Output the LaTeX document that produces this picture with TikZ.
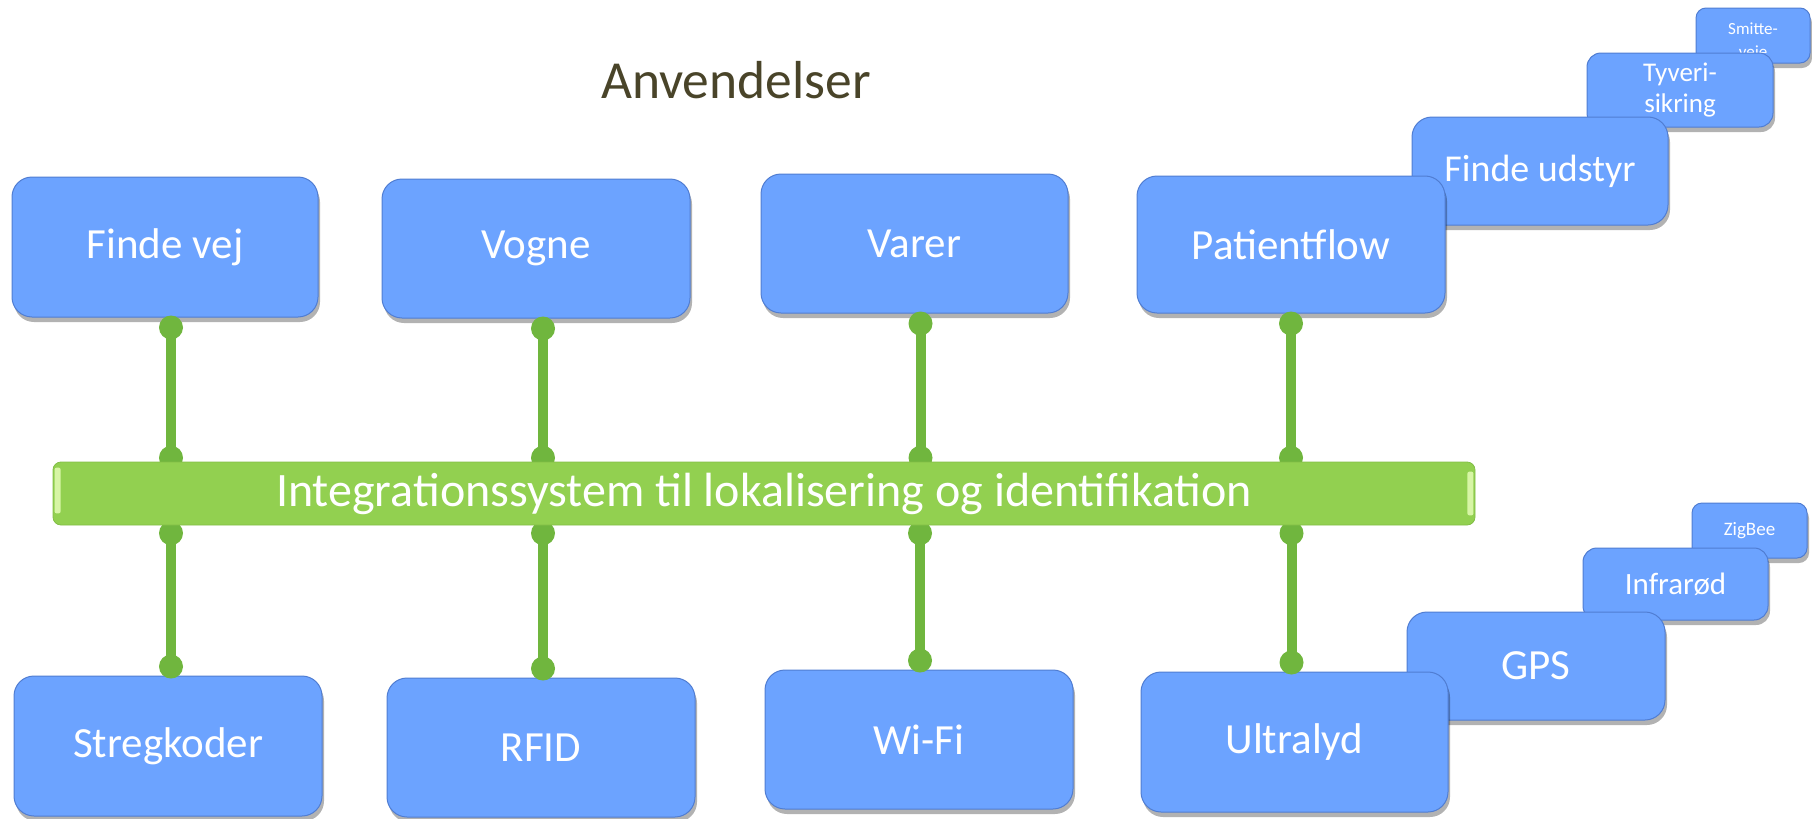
\documentclass[tikz,border=0pt]{standalone}
\usepackage{fontspec}
\setmainfont{Carlito}
\usetikzlibrary{shadows}
\definecolor{boxblue}{RGB}{108,163,255}
\definecolor{boxedge}{RGB}{80,125,210}
\definecolor{bargreen}{RGB}{146,208,80}
\definecolor{baredge}{RGB}{130,190,70}
\definecolor{conngreen}{RGB}{112,182,62}
\definecolor{titlecol}{RGB}{73,68,41}
\definecolor{hilite}{RGB}{215,245,165}
\tikzset{
  bluebox/.style={rectangle, rounded corners=20pt, fill=boxblue, draw=boxedge, line width=1pt,
    text=white, inner sep=0pt, align=center,
    drop shadow={shadow xshift=2pt, shadow yshift=-5pt, opacity=0.3, fill=black}},
  bigtxt/.style={font=\fontsize{43}{47}\selectfont},
  midtxt/.style={font=\fontsize{38}{42}\selectfont},
  smtxt/.style={font=\fontsize{27}{31}\selectfont, rounded corners=14pt},
  tinybox/.style={rounded corners=10pt},
  conn/.style={line width=10pt, draw=conngreen},
  dot/.style={fill=conngreen},
}
\begin{document}
\begin{tikzpicture}[x=1pt,y=-1pt]
\useasboundingbox (0,0) rectangle (1812,819);

% title
\node[text=titlecol, font=\fontsize{53.5}{58}\selectfont] (title) at (736,80) {Anvendelser};

% top stacked boxes (back to front)
\node[bluebox, tinybox, minimum width=114pt, minimum height=55pt] (sm) at (1753,35.5) {};
\node[text=white, align=center, inner sep=0pt, font=\fontsize{17}{23}\selectfont] (smtext) at ([yshift=-6pt]sm.center) {Smitte-\\veje};
\node[bluebox, smtxt, minimum width=186pt, minimum height=74pt] (ty) at (1680,90) {Tyveri-\\sikring};
\node[bluebox, midtxt, minimum width=256pt, minimum height=108pt] (fu) at (1540,171) {Finde udstyr};

% bottom stacked boxes (back to front)
\node[bluebox, tinybox, font=\fontsize{19}{23}\selectfont, minimum width=115pt, minimum height=55pt] (zb) at (1749.5,530.5) {ZigBee};
\node[bluebox, font=\fontsize{31}{35}\selectfont, rounded corners=14pt, minimum width=185pt, minimum height=72pt] (ir) at (1675.5,584) {Infrarød};
\node[bluebox, font=\fontsize{43}{47}\selectfont, minimum width=258pt, minimum height=108pt] (gps) at (1536,666) {GPS};

% main top boxes
\node[bluebox, bigtxt, minimum width=306pt, minimum height=140pt] (fv) at (165,247) {Finde vej};
\node[bluebox, bigtxt, minimum width=308pt, minimum height=139pt] (vo) at (536,248.5) {Vogne};
\node[bluebox, bigtxt, minimum width=307pt, minimum height=139pt] (va) at (914.5,243.5) {Varer};
\node[bluebox, bigtxt, minimum width=308pt, minimum height=137pt] (pf) at (1291,244.5) {Patientflow};

% main bottom boxes
\node[bluebox, bigtxt, minimum width=308pt, minimum height=140pt] (sk) at (168,746) {Stregkoder};
\node[bluebox, bigtxt, minimum width=308pt, minimum height=139pt] (rf) at (541,747.5) {RFID};
\node[bluebox, bigtxt, minimum width=308pt, minimum height=139pt] (wf) at (919,739.5) {Wi-Fi};
\node[bluebox, bigtxt, minimum width=307pt, minimum height=140pt] (ul) at (1294.5,742) {Ultralyd};

% bar geometry (for connectors)
\path (764,493.5) node[minimum width=1422pt, minimum height=63pt, inner sep=0pt] (barshape) {};

% connectors
\foreach \b/\dx in {fv/6,vo/7,va/6,pf/0}{
  \coordinate (\b-c) at ([xshift=\dx pt]\b.south);
  \draw[conn] (\b-c) -- (\b-c |- barshape.north);
  \fill[dot] ([yshift=-10pt]\b-c) circle (12pt);
  \fill[dot] ([yshift=4pt]\b-c |- barshape.north) circle (12pt);
}
\foreach \b/\dx in {sk/3,rf/2,wf/1,ul/-3}{
  \coordinate (\b-c) at ([xshift=\dx pt]\b.north);
  \draw[conn] (\b-c) -- (\b-c |- barshape.south);
  \fill[dot] ([yshift=9pt]\b-c) circle (12pt);
  \fill[dot] ([yshift=-8pt]\b-c |- barshape.south) circle (12pt);
}

% bar
\node[rectangle, rounded corners=8pt, fill=bargreen, draw=baredge, line width=0.8pt,
  minimum width=1422pt, minimum height=63pt, inner sep=0pt, text=white,
  font=\fontsize{48}{52}\selectfont] (bar) at (764,493.5) {Integrationssystem til lokalisering og identifikation};
\fill[hilite, rounded corners=2pt] ([xshift=2pt,yshift=-6pt]bar.north west) rectangle ([xshift=8pt,yshift=12pt]bar.south west);
\fill[hilite, rounded corners=2pt] ([xshift=-8pt,yshift=-10pt]bar.north east) rectangle ([xshift=-2pt,yshift=10pt]bar.south east);
\end{tikzpicture}
\end{document}
